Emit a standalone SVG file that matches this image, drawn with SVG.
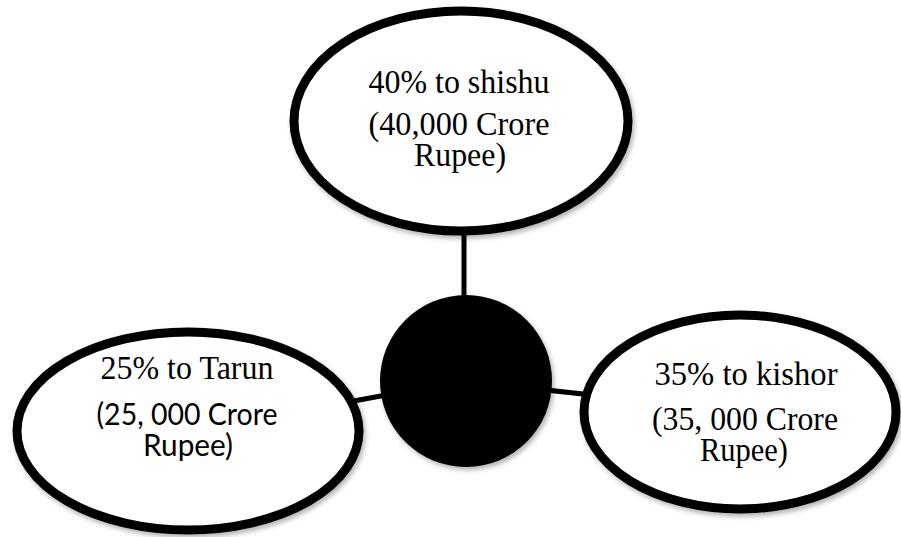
<svg xmlns="http://www.w3.org/2000/svg" width="901" height="537" viewBox="0 0 901 537">
<defs>
<filter id="sh" x="-10%" y="-10%" width="125%" height="130%">
<feDropShadow dx="2" dy="3" stdDeviation="2.5" flood-color="#000" flood-opacity="0.3"/>
</filter>
<style>
.ell{fill:#fff;stroke:#000;stroke-width:9;filter:url(#sh)}
.hub{fill:#000;filter:url(#sh)}
.con{stroke:#000;stroke-width:5;fill:none}
.serif{font-family:"Liberation Serif","Times New Roman",serif;font-size:33px;fill:#000;text-anchor:middle}
.sans{font-family:"Lato","Open Sans",sans-serif;font-size:31px;fill:#000;text-anchor:middle}
</style>
</defs>
<rect width="901" height="537" fill="#fff"/>
<g id="connectors">
<line class="con" x1="464" y1="200" x2="464" y2="330"/>
<line class="con" x1="300" y1="411" x2="440" y2="385"/>
<line class="con" x1="500" y1="385" x2="620" y2="398"/>
</g>
<g id="node-shishu">
<ellipse class="ell" cx="461" cy="121" rx="167" ry="110"/>
<text class="serif" x="459" y="93" textLength="181" lengthAdjust="spacingAndGlyphs">40% to shishu</text>
<text class="serif" x="459" y="135" textLength="181" lengthAdjust="spacingAndGlyphs">(40,000 Crore</text>
<text class="serif" x="460" y="166" textLength="92" lengthAdjust="spacingAndGlyphs">Rupee)</text>
</g>
<g id="node-center">
<circle class="hub" cx="466" cy="381" r="86"/>
</g>
<g id="node-tarun">
<ellipse class="ell" cx="188" cy="431" rx="171" ry="99"/>
<text class="serif" x="187" y="379" textLength="173" lengthAdjust="spacingAndGlyphs">25% to Tarun</text>
<text class="sans" x="187" y="425" textLength="181" lengthAdjust="spacingAndGlyphs">(25, 000 Crore</text>
<text class="sans" x="188" y="456" textLength="90" lengthAdjust="spacingAndGlyphs">Rupee)</text>
</g>
<g id="node-kishor">
<ellipse class="ell" cx="740" cy="412" rx="156" ry="97"/>
<text class="serif" x="746" y="385" textLength="183" lengthAdjust="spacingAndGlyphs">35% to kishor</text>
<text class="serif" x="745" y="430" textLength="186" lengthAdjust="spacingAndGlyphs">(35, 000 Crore</text>
<text class="serif" x="744" y="461" textLength="88" lengthAdjust="spacingAndGlyphs">Rupee)</text>
</g>
</svg>
